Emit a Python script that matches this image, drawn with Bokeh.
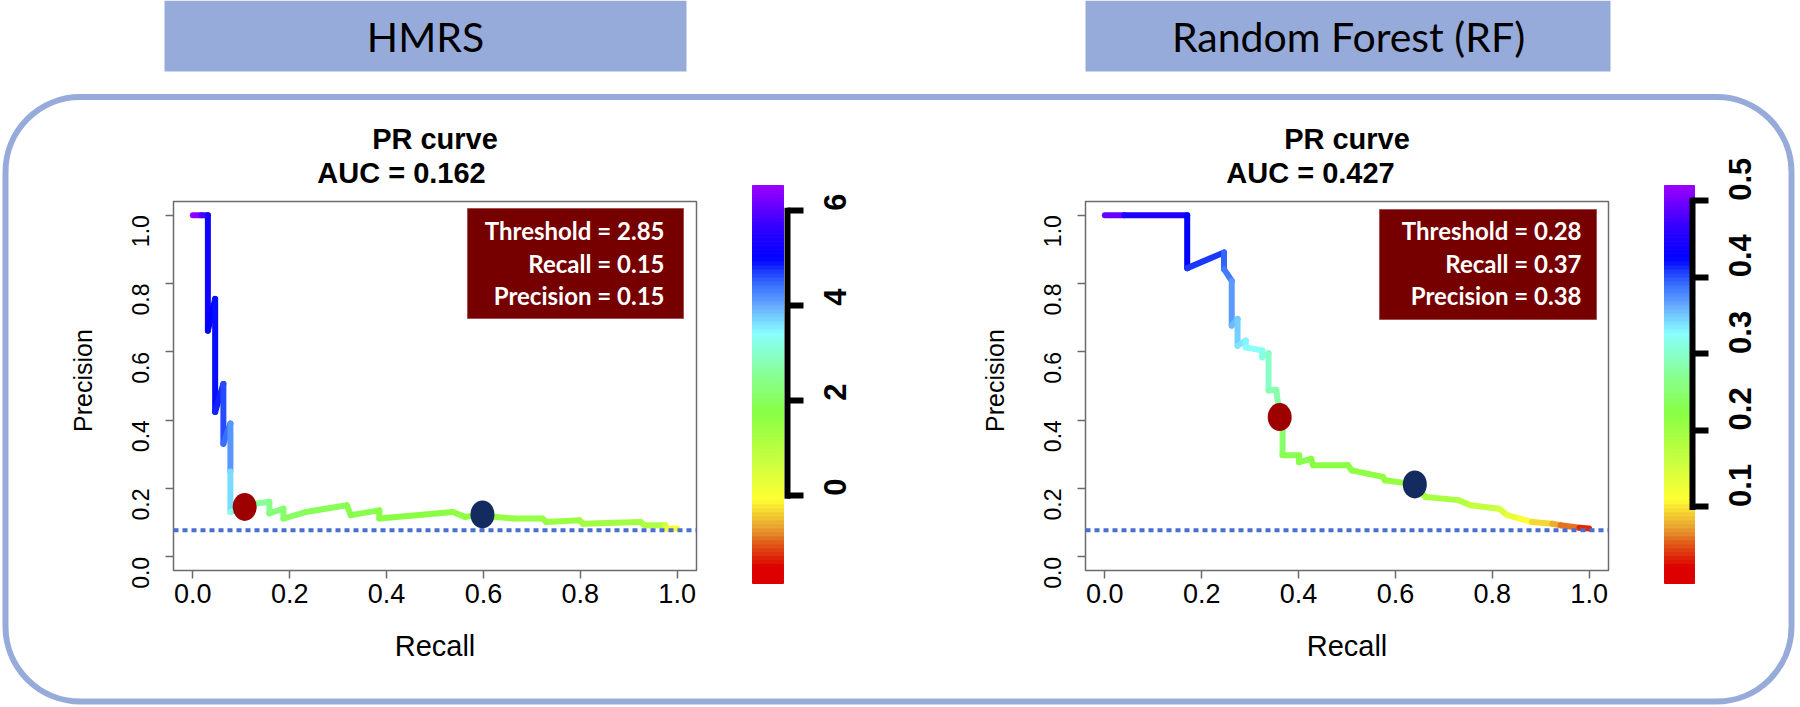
import math
from bokeh.plotting import figure
from bokeh.models import (Range1d, FixedTicker, PrintfTickFormatter, Label,
                          BoxAnnotation, ColumnDataSource, LinearAxis)
from bokeh.transform import linear_cmap
from bokeh.embed import file_html
from bokeh.resources import INLINE

# ---------------- data ----------------
axis_ticks = [0.0, 0.2, 0.4, 0.6, 0.8, 1.0]
axis_tick_labels = ["0.0", "0.2", "0.4", "0.6", "0.8", "1.0"]
baseline_precision = 0.078

# HMRS
hm_recall = [0.000, 0.018, 0.031, 0.031, 0.046, 0.046, 0.063, 0.063, 0.0775, 0.0775,
             0.0775, 0.107, 0.132, 0.158, 0.158, 0.187, 0.187, 0.233, 0.318, 0.326,
             0.385, 0.385, 0.537, 0.562, 0.598, 0.621, 0.663, 0.722, 0.730, 0.798,
             0.806, 0.924, 0.933, 0.975, 0.979, 1.000]
hm_precision = [1.000, 1.000, 1.000, 0.662, 0.755, 0.424, 0.506, 0.331, 0.390, 0.250,
                0.131, 0.146, 0.156, 0.161, 0.127, 0.141, 0.112, 0.131, 0.151, 0.122,
                0.136, 0.112, 0.131, 0.117, 0.124, 0.117, 0.112, 0.112, 0.102, 0.107,
                0.097, 0.102, 0.0925, 0.0925, 0.083, 0.083]
hm_threshold = [6.5, 6.3, 5.4, 5.1, 5.0, 4.9, 4.8, 4.5, 4.4, 3.9,
                3.4, 3.0, 2.7, 2.5, 2.4, 2.2, 2.1, 2.0, 1.9, 1.85,
                1.8, 1.75, 1.7, 1.65, 1.6, 1.6, 1.55, 1.5, 1.5, 1.45,
                1.4, 1.35, 1.3, 1.0, 0.3, -0.1]
hm_cut_recall, hm_cut_precision = [0.107], [0.146]
hm_opt_recall, hm_opt_precision = [0.598], [0.124]
hm_auc_text = "AUC = 0.162"
hm_info = ["Threshold = 2.85", "Recall = 0.15", "Precision = 0.15"]
hm_cb_range = (-1.85, 6.53)
hm_cb_ticks = [0, 2, 4, 6]
hm_cb_labels = ["0", "2", "4", "6"]

# Random Forest
rf_recall = [0.000, 0.040, 0.170, 0.170, 0.246, 0.246, 0.262, 0.262, 0.274, 0.274,
             0.291, 0.291, 0.325, 0.325, 0.338, 0.338, 0.354, 0.361, 0.367, 0.367,
             0.401, 0.401, 0.426, 0.430, 0.502, 0.510, 0.574, 0.578, 0.640, 0.662,
             0.730, 0.755, 0.814, 0.831, 0.857, 0.882, 0.924, 0.941, 0.980, 1.000]
rf_precision = [1.000, 1.000, 1.000, 0.845, 0.891, 0.842, 0.808, 0.677, 0.696, 0.618,
                0.633, 0.613, 0.604, 0.584, 0.596, 0.487, 0.489, 0.410, 0.385, 0.297,
                0.297, 0.277, 0.287, 0.268, 0.268, 0.253, 0.234, 0.224, 0.212, 0.175,
                0.166, 0.151, 0.141, 0.122, 0.112, 0.102, 0.097, 0.0925, 0.085, 0.083]
rf_threshold = [0.515, 0.47, 0.43, 0.42, 0.40, 0.39, 0.38, 0.36, 0.355, 0.34,
                0.335, 0.33, 0.32, 0.315, 0.31, 0.29, 0.285, 0.28, 0.26, 0.235,
                0.23, 0.228, 0.226, 0.224, 0.222, 0.22, 0.218, 0.216, 0.21, 0.2,
                0.185, 0.175, 0.155, 0.14, 0.12, 0.105, 0.085, 0.07, 0.05, 0.02]
rf_cut_recall, rf_cut_precision = [0.361], [0.409]
rf_opt_recall, rf_opt_precision = [0.640], [0.212]
rf_auc_text = "AUC = 0.427"
rf_info = ["Threshold = 0.28", "Recall = 0.37", "Precision = 0.38"]
rf_cb_range = (0.0, 0.52)
rf_cb_ticks = [0.1, 0.2, 0.3, 0.4, 0.5]
rf_cb_labels = ["0.1", "0.2", "0.3", "0.4", "0.5"]

# ---------------- colour scale ----------------
STOPS = [(0.00, "#dd0000"), (0.04, "#dd0000"), (0.09, "#e04a14"), (0.14, "#e8a030"),
         (0.21, "#ffff33"), (0.31, "#c8ff40"), (0.43, "#88ff44"), (0.53, "#88ff99"),
         (0.63, "#88ffff"), (0.70, "#66aaff"), (0.76, "#3366ff"), (0.82, "#0000ff"),
         (0.90, "#3300ff"), (1.00, "#9900ff")]


def _rgb(h):
    return tuple(int(h[i:i + 2], 16) for i in (1, 3, 5))


def _colour_at(f):
    for (f0, c0), (f1, c1) in zip(STOPS[:-1], STOPS[1:]):
        if f <= f1:
            t = 0.0 if f1 == f0 else (f - f0) / (f1 - f0)
            a, b = _rgb(c0), _rgb(c1)
            return "#%02x%02x%02x" % tuple(round(a[k] + (b[k] - a[k]) * t) for k in range(3))
    return STOPS[-1][1]


PALETTE = [_colour_at(i / 255) for i in range(256)]

# ---------------- layout (canvas pixels, y measured from the top) ----------------
W, H = 1800, 707
FRAME_W, FRAME_H = 523, 369
FRAME_TOP = 201
XLIM = (-0.04, 1.04)
YLIM = (-0.04, 1.04)
CB_TOP, CB_BOT = 185, 583
BANNER_COLOR = "#97abda"
GREY = "#6b6b6b"

PANELS = [
    dict(key="hm", frame_left=173, banner=(164, 686), banner_text="HMRS", banner_cx=425,
         auc_cx=401, cb_x=(752, 783), cb_axis_x=787,
         info_box=(467, 683, 208, 318), info_right=664,
         recall=hm_recall, precision=hm_precision, threshold=hm_threshold,
         cut=(hm_cut_recall, hm_cut_precision), opt=(hm_opt_recall, hm_opt_precision),
         auc=hm_auc_text, info=hm_info, cb_range=hm_cb_range,
         cb_ticks=hm_cb_ticks, cb_labels=hm_cb_labels),
    dict(key="rf", frame_left=1085, banner=(1085, 1610), banner_text="Random Forest (RF)",
         banner_cx=1348, auc_cx=1310, cb_x=(1664, 1694), cb_axis_x=1692,
         info_box=(1379, 1596, 209, 319), info_right=1581,
         recall=rf_recall, precision=rf_precision, threshold=rf_threshold,
         cut=(rf_cut_recall, rf_cut_precision), opt=(rf_opt_recall, rf_opt_precision),
         auc=rf_auc_text, info=rf_info, cb_range=rf_cb_range,
         cb_ticks=rf_cb_ticks, cb_labels=rf_cb_labels),
]


def py(v):
    """canvas y (from top) -> value of the base y range"""
    return H - v


def page_map(pa, va, pb, vb):
    return lambda pg: va + (pg - pa) * (vb - va) / (pb - pa)


p = figure(width=W, height=H, x_range=Range1d(0, W), y_range=Range1d(0, H),
           x_axis_type=None, y_axis_type=None, min_border=0,
           output_backend="svg", toolbar_location=None, tools="")
p.outline_line_color = None
p.background_fill_color = "white"
p.border_fill_color = "white"

# coordinate systems of the two PR panels and of the two colour bars
extra_x, extra_y = {}, {}
fy = page_map(FRAME_TOP + FRAME_H, YLIM[0], FRAME_TOP, YLIM[1])
extra_y["P"] = Range1d(fy(H), fy(0))
for cfg in PANELS:
    fx = page_map(cfg["frame_left"], XLIM[0], cfg["frame_left"] + FRAME_W, XLIM[1])
    extra_x[cfg["key"]] = Range1d(fx(0), fx(W))
    lo, hi = cfg["cb_range"]
    fc = page_map(CB_BOT, lo, CB_TOP, hi)
    extra_y["cb_" + cfg["key"]] = Range1d(fc(H), fc(0))
p.extra_x_ranges = extra_x
p.extra_y_ranges = extra_y


def style_axis(ax, size, standoff):
    ax.axis_line_color = None
    ax.major_tick_in = 0
    ax.minor_tick_line_color = None
    ax.major_label_text_font = "Liberation Sans"
    ax.major_label_text_color = "black"
    ax.major_label_text_font_size = size
    ax.major_label_standoff = standoff


def text(x, y, s, font, size, bold=False, color="black", align="center", angle=0.0):
    p.add_layout(Label(x=x, y=py(y), text=s, text_align=align, text_baseline="alphabetic",
                       text_font=font, text_font_size=size,
                       text_font_style="bold" if bold else "normal",
                       text_color=color, angle=angle))


# outer rounded frame
p.add_layout(BoxAnnotation(left=5, right=1791, top=py(96.5), bottom=py(701),
                           fill_color=None, fill_alpha=0, line_color=BANNER_COLOR,
                           line_alpha=1.0, line_width=6, border_radius=75))

for cfg in PANELS:
    k = cfg["key"]
    fl = cfg["frame_left"]
    cx = fl + FRAME_W / 2

    # banner
    bl, br = cfg["banner"]
    p.add_layout(BoxAnnotation(left=bl, right=br, top=py(0), bottom=py(71),
                               fill_color=BANNER_COLOR, fill_alpha=1, line_color=None))
    text(cfg["banner_cx"], 36, cfg["banner_text"], "Lato", "41px")

    # titles
    text(cx, 138, "PR curve", "Liberation Sans", "29px", bold=True)
    text(cfg["auc_cx"], 172, cfg["auc"], "Liberation Sans", "29px", bold=True)

    # plot frame
    p.quad(left=[XLIM[0]], right=[XLIM[1]], bottom=[YLIM[0]], top=[YLIM[1]],
           x_range_name=k, y_range_name="P", fill_color=None,
           line_color=GREY, line_width=1.5)

    # axes of the PR panel
    xa = LinearAxis(x_range_name=k, y_range_name="P", fixed_location=YLIM[0],
                    ticker=FixedTicker(ticks=axis_ticks),
                    formatter=PrintfTickFormatter(format="%.1f"),
                    major_label_overrides=dict(zip(axis_ticks, axis_tick_labels)))
    style_axis(xa, "27px", 5)
    xa.major_tick_out = 8
    xa.major_tick_line_color = GREY
    xa.major_tick_line_width = 1.5
    p.add_layout(xa, "below")

    ya = LinearAxis(x_range_name=k, y_range_name="P", fixed_location=XLIM[0],
                    ticker=FixedTicker(ticks=axis_ticks),
                    formatter=PrintfTickFormatter(format="%.1f"),
                    major_label_overrides=dict(zip(axis_ticks, axis_tick_labels)))
    style_axis(ya, "23px", 25)
    ya.major_tick_out = 8
    ya.major_tick_line_color = GREY
    ya.major_tick_line_width = 1.5
    ya.major_label_orientation = math.pi / 2
    p.add_layout(ya, "left")

    text(cx, 645, "Recall", "Liberation Sans", "29px")
    text(fl - 91, 380, "Precision", "Liberation Sans", "25px", angle=math.pi / 2)

    # colour bar
    lo, hi = cfg["cb_range"]
    cbk = "cb_" + k
    n = 100
    step = (hi - lo) / n
    bottoms = [lo + i * step for i in range(n)]
    tops = [b + step for b in bottoms]
    cols = [PALETTE[min(255, int((i + 0.5) / n * 256))] for i in range(n)]
    cl, cr = cfg["cb_x"]
    p.quad(left=cl, right=cr, bottom=bottoms, top=tops, y_range_name=cbk,
           fill_color=cols, line_color=cols, line_width=1)
    ticks = cfg["cb_ticks"]
    ax_x = cfg["cb_axis_x"]
    p.segment(x0=[ax_x], x1=[ax_x], y0=[min(ticks)], y1=[max(ticks)], y_range_name=cbk,
              line_color="black", line_width=6, line_cap="square")
    ca = LinearAxis(y_range_name=cbk, fixed_location=ax_x, ticker=FixedTicker(ticks=ticks),
                    major_label_overrides=dict(zip(ticks, cfg["cb_labels"])))
    style_axis(ca, "31px", 32)
    ca.major_label_text_font_style = "bold"
    ca.major_tick_out = 16
    ca.major_tick_line_color = "black"
    ca.major_tick_line_width = 6
    ca.major_label_orientation = math.pi / 2
    p.add_layout(ca, "right")

    # PR curve coloured by threshold
    rec, prec, thr = cfg["recall"], cfg["precision"], cfg["threshold"]
    src = ColumnDataSource(dict(
        x0=rec[:-1], y0=prec[:-1], x1=rec[1:], y1=prec[1:],
        thr=[(a + b) / 2 for a, b in zip(thr[:-1], thr[1:])]))
    p.segment("x0", "y0", "x1", "y1", source=src, x_range_name=k, y_range_name="P",
              line_width=6, line_cap="round",
              line_color=linear_cmap("thr", PALETTE, lo, hi))

    # random-classifier baseline
    p.segment(x0=[XLIM[0]], x1=[XLIM[1]], y0=[baseline_precision], y1=[baseline_precision],
              x_range_name=k, y_range_name="P", line_color="#4a6fd0", line_width=4,
              line_dash="5 4")

    # highlighted points
    p.ellipse(x=cfg["cut"][0], y=cfg["cut"][1], width=24, height=28,
              width_units="screen", height_units="screen", x_range_name=k, y_range_name="P",
              fill_color="#9e0000", line_color=None)
    p.ellipse(x=cfg["opt"][0], y=cfg["opt"][1], width=24, height=28,
              width_units="screen", height_units="screen", x_range_name=k, y_range_name="P",
              fill_color="#132b5e", line_color=None)

    # info box
    l, r, t, b = cfg["info_box"]
    p.add_layout(BoxAnnotation(left=l, right=r, top=py(t), bottom=py(b),
                               fill_color="#760000", fill_alpha=1,
                               line_color="#a05050", line_alpha=1.0, line_width=1))
    for s, base in zip(cfg["info"], [230, 263, 295]):
        text(cfg["info_right"], base, s, "Lato", "24px", bold=True, color="white",
             align="right")

open("out.html", "w").write(file_html(p, INLINE))
